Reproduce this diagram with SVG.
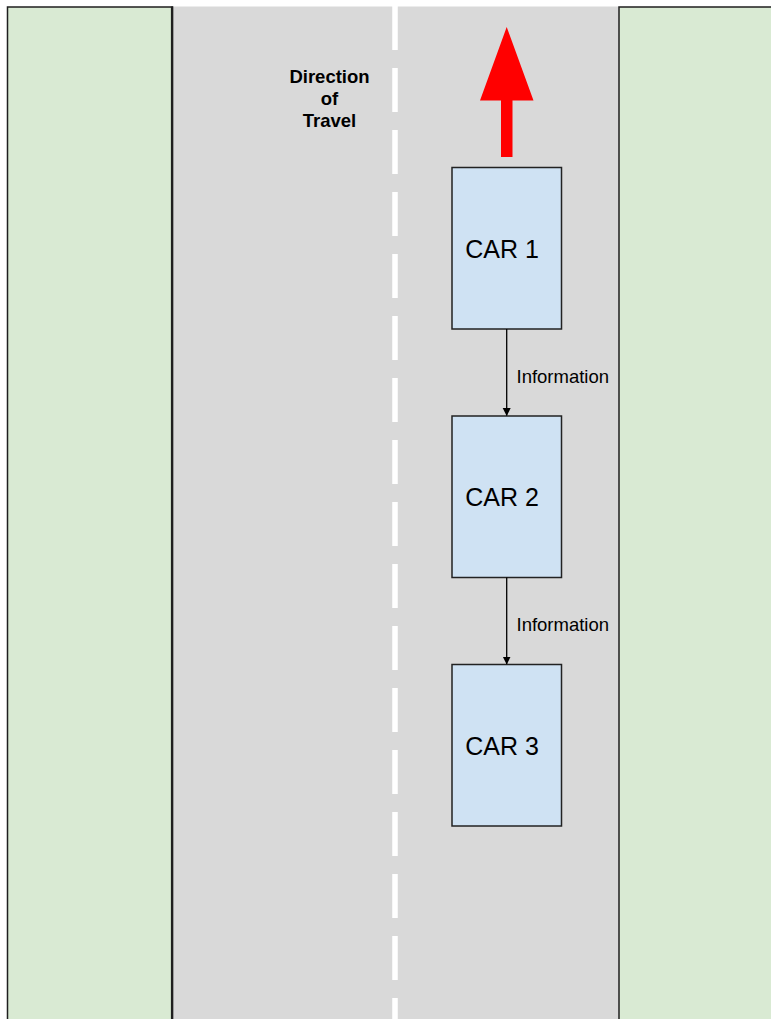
<svg xmlns="http://www.w3.org/2000/svg" width="771" height="1019" viewBox="0 0 771 1019">
<defs>
<style>
.grass{fill:#d9ead3;stroke:#1f1f1f;stroke-width:1.5}
.road{fill:#d9d9d9}
.edge{stroke:#1f1f1f;stroke-width:2.2}
.car{fill:#cfe2f3;stroke:#222;stroke-width:1.5}
.carlbl{font-family:"Liberation Sans",Arial,sans-serif;font-size:25px;fill:#000;text-anchor:middle}
.info{font-family:"Liberation Sans",Arial,sans-serif;font-size:18.5px;fill:#000}
.dir{font-family:"Liberation Sans",Arial,sans-serif;font-size:18.5px;font-weight:bold;fill:#000;text-anchor:middle}
.conn{stroke:#000;stroke-width:1.3;fill:none}
</style>
<marker id="ah" markerWidth="8" markerHeight="10" refX="7.5" refY="5" orient="auto" markerUnits="userSpaceOnUse" viewBox="0 0 8 10">
<path d="M0,1 L8,5 L0,9 Z" fill="#000"/>
</marker>
</defs>
<rect width="771" height="1019" fill="#fff"/>
<g id="road"><rect class="road" x="172" y="6.5" width="447" height="1013"/></g>
<g id="left-grass"><rect class="grass" x="7.5" y="7" width="165" height="1020"/><line class="edge" x1="172" y1="6.5" x2="172" y2="1019"/></g>
<g id="right-grass"><rect class="grass" x="619" y="7" width="160" height="1020"/></g>
<g id="centre-line"><line x1="395" y1="6" x2="395" y2="1019" stroke="#fff" stroke-width="5.5" stroke-dasharray="44 18"/></g>
<g id="direction">
<text class="dir" x="329.5" y="82.5">Direction</text>
<text class="dir" x="329.5" y="105">of</text>
<text class="dir" x="329.5" y="127">Travel</text>
<polygon points="506.7,27 533.5,100.5 512.5,100.5 512.5,157 501,157 501,100.5 480,100.5" fill="#ff0000"/>
</g>
<g id="car1"><rect class="car" x="452" y="167.5" width="109.5" height="161.5"/><text class="carlbl" x="502" y="257.5">CAR 1</text></g>
<g id="car2"><rect class="car" x="452" y="416" width="109.5" height="161.5"/><text class="carlbl" x="502" y="506">CAR 2</text></g>
<g id="car3"><rect class="car" x="452" y="664.5" width="109.5" height="161.5"/><text class="carlbl" x="502" y="754.5">CAR 3</text></g>
<g id="connectors">
<line class="conn" x1="506.7" y1="329" x2="506.7" y2="415.5" marker-end="url(#ah)"/>
<text class="info" x="516.5" y="383">Information</text>
<line class="conn" x1="506.7" y1="577.5" x2="506.7" y2="664" marker-end="url(#ah)"/>
<text class="info" x="516.5" y="631">Information</text>
</g>
</svg>
